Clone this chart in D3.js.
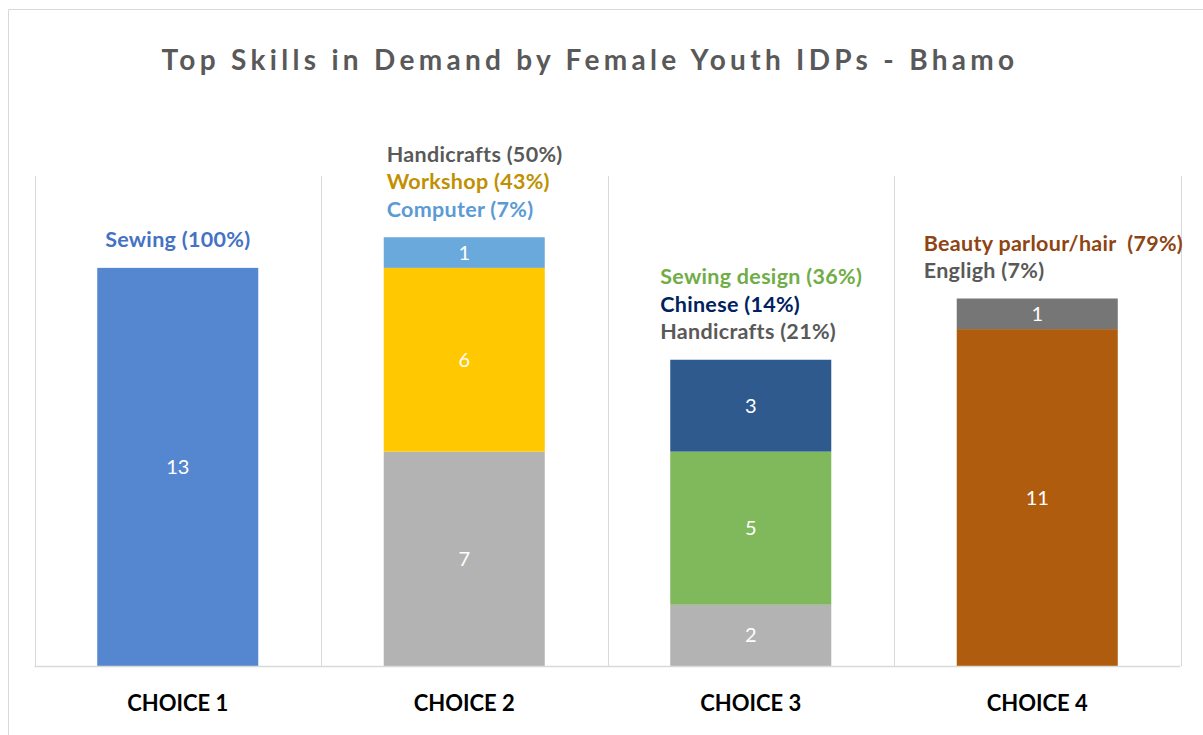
<!DOCTYPE html>
<html><head><meta charset="utf-8">
<script src="https://cdn.jsdelivr.net/npm/d3@7"></script>
<style>body{margin:0;background:#fff;} svg{display:block;} text{white-space:pre;}</style>
</head><body>
<svg id="c" width="1203" height="735"></svg>
<script>
const categories = ["CHOICE 1", "CHOICE 2", "CHOICE 3", "CHOICE 4"];
// stacked segments, bottom to top
const level1 = [13, 7, 2, 11];
const level2 = [0, 6, 5, 1];
const level3 = [0, 1, 3, 0];
const level1Colors = ["#5586D0", "#B3B3B3", "#B3B3B3", "#B05C0F"];
const level2Colors = ["none", "#FFC800", "#80B85C", "#767676"];
const level3Colors = ["none", "#6AA9DC", "#2E5A8E", "none"];
// annotation lines per category
const annText = [
  ["Sewing (100%)"],
  ["Handicrafts (50%)", "Workshop (43%)", "Computer (7%)"],
  ["Sewing design (36%)", "Chinese (14%)", "Handicrafts (21%)"],
  ["Beauty parlour/hair  (79%)", "Engligh (7%)"]
];
const annColors = [
  ["#4472C4"],
  ["#595959", "#C09000", "#5B9BD5"],
  ["#70AD47", "#002060", "#595959"],
  ["#8E4513", "#595959"]
];
const yTicks = [0, 16];
const title = "Top Skills in Demand by Female Youth IDPs - Bhamo";

const svg = d3.select("#c");
const font = "Lato, 'Open Sans', sans-serif";

// outer border
svg.append("path").attr("d", "M8.5,740 V9.5 H1210").attr("fill", "none").attr("stroke", "#d9d9d9").attr("stroke-width", 1);

const x = d3.scaleBand().domain(categories).range([34.5, 1180.5]).paddingInner(0.438).paddingOuter(0.219);
const y = d3.scaleLinear().domain([yTicks[0], yTicks[1]]).range([666, 176]);

// vertical gridlines at band boundaries
const step = x.step();
const bounds = categories.map(c => x(c) - x.paddingOuter() * step).concat([x.range()[1]]);
svg.append("g").selectAll("line").data(bounds).join("line")
  .attr("x1", d => Math.round(d) + 0.5).attr("x2", d => Math.round(d) + 0.5)
  .attr("y1", y(16)).attr("y2", y(0))
  .attr("stroke", "#d9d9d9").attr("stroke-width", 1);

// stack
const rows = categories.map((c, i) => ({cat: c, a: level1[i], b: level2[i], c3: level3[i]}));
const stack = d3.stack().keys(["a", "b", "c3"]);
const series = stack(rows);
const colorSets = [level1Colors, level2Colors, level3Colors];

series.forEach((s, si) => {
  const g = svg.append("g");
  s.forEach((d, i) => {
    const v = d[1] - d[0];
    if (v <= 0) return;
    const cat = categories[i];
    g.append("rect")
      .attr("x", x(cat)).attr("width", x.bandwidth())
      .attr("y", y(d[1])).attr("height", y(d[0]) - y(d[1]))
      .attr("fill", colorSets[si][i]);
    g.append("text")
      .attr("x", x(cat) + x.bandwidth() / 2)
      .attr("y", (y(d[0]) + y(d[1])) / 2)
      .attr("dy", "0.35em")
      .attr("text-anchor", "middle")
      .attr("fill", "#fff").attr("font-family", font).attr("font-size", 20)
      .text(v);
  });
});

// baseline
svg.append("line").attr("x1", x.range()[0]).attr("x2", x.range()[1])
  .attr("y1", y(0) + 0.5).attr("y2", y(0) + 0.5).attr("stroke", "#d9d9d9").attr("stroke-width", 1.5);

// category axis
const xAxis = d3.axisBottom(x).tickSize(0).tickPadding(0);
const ax = svg.append("g").attr("transform", `translate(0,${y(0)})`).call(xAxis);
ax.select(".domain").remove();
ax.selectAll("text").attr("y", 37).attr("dy", "0.35em")
  .attr("font-family", font).attr("font-size", 22).attr("font-weight", "bold").attr("fill", "#000");

// annotations
const lineH = 27.5;
const totals = categories.map((c, i) => level1[i] + level2[i] + level3[i]);
categories.forEach((cat, i) => {
  const lines = annText[i];
  const topY = y(totals[i]);
  const lastY = topY - 28;
  const centered = lines.length === 1;
  const lx = centered ? x(cat) + x.bandwidth() / 2 : x(cat) - (i === 1 ? -3 : (i === 2 ? 10 : 33));
  lines.forEach((t, k) => {
    svg.append("text")
      .attr("x", lx)
      .attr("y", lastY - (lines.length - 1 - k) * lineH)
      .attr("dy", "0.35em")
      .attr("text-anchor", centered ? "middle" : "start")
      .attr("font-family", font).attr("font-size", 21.5).attr("font-weight", "bold")
      .attr("letter-spacing", 0.3)
      .attr("fill", annColors[i][k])
      .text(t);
  });
});

// title
svg.append("text").attr("x", 590).attr("y", 60).attr("dy", "0.35em")
  .attr("text-anchor", "middle").attr("font-family", font).attr("font-size", 28)
  .attr("font-weight", "bold").attr("fill", "#595959").attr("letter-spacing", 4.3)
  .text(title);
</script>
</body></html>
